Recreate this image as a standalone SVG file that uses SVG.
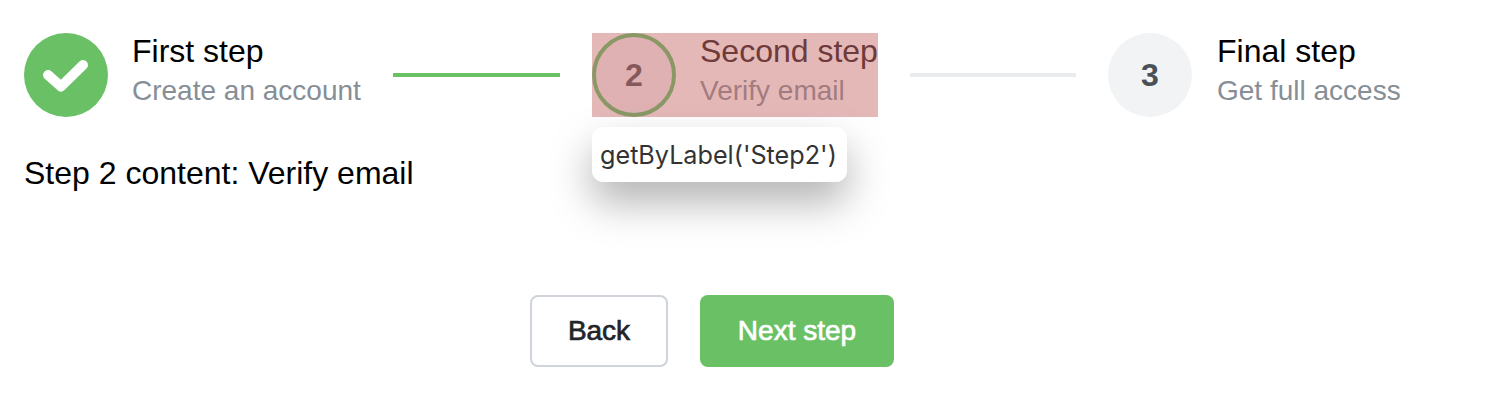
<svg xmlns="http://www.w3.org/2000/svg" width="1512" height="418" viewBox="0 0 1512 418">
<style>
text{font-family:"Liberation Sans",Arial,sans-serif}
.t{font-size:32px;fill:#000}
.d{font-size:28px;fill:#868e96}
.n{font-size:32px;font-weight:700;fill:#495057;text-anchor:middle}
</style>
<defs>
<filter id="sh" x="-40%" y="-100%" width="180%" height="380%"><feDropShadow dx="0" dy="20" stdDeviation="20" flood-color="#000" flood-opacity="0.3"/></filter>
</defs>
<rect width="1512" height="418" fill="#fff"/>
<g id="connectors">
<rect x="393" y="73" width="167" height="4" fill="#69c065"/>
<rect x="910" y="73" width="166" height="4" fill="#e9ecef"/>
</g>
<g id="step1">
<circle cx="66" cy="75" r="42" fill="#69c065"/>
<path d="M48 75L61 86.500L83 65" fill="none" stroke="#fff" stroke-width="10" stroke-linecap="round" stroke-linejoin="round"/>
<text class="t" x="132" y="62">First step</text>
<text class="d" x="132" y="100">Create an account</text>
</g>
<g id="step2">
<rect x="592" y="33" width="286" height="84" fill="#e5b8b8"/>
<circle cx="634" cy="75" r="40" fill="#dfb1b3" stroke="#8a9866" stroke-width="4"/>
<text class="n" x="634" y="86" style="fill:#85595b">2</text>
<text class="t" x="700" y="62" style="fill:#6e3a3a">Second step</text>
<text class="d" x="700" y="100" style="fill:#a27c7e">Verify email</text>
</g>
<g id="step3">
<circle cx="1150" cy="75" r="42" fill="#f1f3f5"/>
<text class="n" x="1150" y="86">3</text>
<text class="t" x="1217" y="62">Final step</text>
<text class="d" x="1217" y="100">Get full access</text>
</g>
<g id="tooltip">
<rect x="592" y="127" width="255" height="55" rx="12" fill="#fff" filter="url(#sh)"/>
<text x="600" y="164" font-size="25.200" fill="#333" style="font-family:Inter,'Noto Sans',sans-serif">getByLabel('Step2')</text>
</g>
<g id="content">
<text x="24" y="184" font-size="32" fill="#000">Step 2 content: Verify email</text>
</g>
<g id="back">
<rect x="531" y="296" width="136" height="70" rx="7" fill="#fff" stroke="#ced4da" stroke-width="2"/>
<text x="599" y="340" font-size="28" fill="#212529" stroke="#212529" stroke-width="0.7" text-anchor="middle">Back</text>
</g>
<g id="next">
<rect x="700" y="295" width="194" height="72" rx="8" fill="#69c065"/>
<text x="797" y="340" font-size="28" fill="#fff" stroke="#fff" stroke-width="0.7" text-anchor="middle">Next step</text>
</g>
</svg>
